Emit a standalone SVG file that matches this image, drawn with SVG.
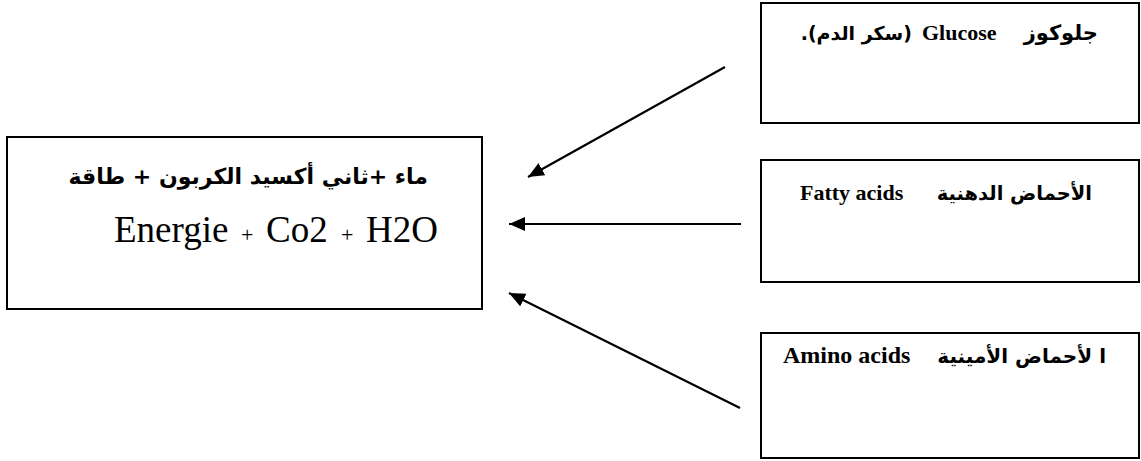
<svg xmlns="http://www.w3.org/2000/svg" width="1141" height="461" viewBox="0 0 1141 461">
<style>
.box{fill:#fff;stroke:#000;stroke-width:2}
.ar{font-family:"DejaVu Sans",sans-serif;font-weight:bold;fill:#000}
.en{font-family:"Liberation Serif",serif;font-weight:bold;fill:#000}
.rm{font-family:"Liberation Serif",serif;fill:#000}
.arrow{stroke:#000;stroke-width:2.2;fill:none;marker-end:url(#ah)}
</style>
<defs>
<marker id="ah" markerUnits="userSpaceOnUse" markerWidth="17" markerHeight="15" refX="16" refY="7" orient="auto">
<path d="M0,0 L16,7 L0,14 z" fill="#000"/>
</marker>
</defs>
<rect width="1141" height="461" fill="#fff"/>
<g id="products">
<rect class="box" x="7" y="137" width="475" height="172"/>
<text class="ar" x="428" y="184" font-size="22" direction="rtl" text-anchor="start">ماء +ثاني أكسيد الكربون +  طاقة</text>
<text class="rm" y="242" font-size="37"><tspan x="114">Energie</tspan><tspan x="241" font-size="22">+</tspan><tspan x="266">Co2</tspan><tspan x="341" font-size="22">+</tspan><tspan x="366">H2O</tspan></text>
</g>
<g id="glucose">
<rect class="box" x="761" y="3" width="378" height="120"/>
<text class="ar" x="1098" y="40" font-size="21" direction="rtl" text-anchor="start">جلوكوز</text>
<text class="en" x="922" y="40" font-size="22">Glucose</text>
<text class="ar" x="912" y="40" font-size="19" direction="rtl" text-anchor="start">(سكر الدم).</text>
</g>
<g id="fatty">
<rect class="box" x="761" y="160" width="378" height="122"/>
<text class="ar" x="1092" y="200" font-size="19.5" direction="rtl" text-anchor="start">الأحماض الدهنية</text>
<text class="en" x="800" y="200" font-size="22">Fatty acids</text>
</g>
<g id="amino">
<rect class="box" x="761" y="333" width="378" height="125"/>
<text class="ar" x="1106" y="363" font-size="20" direction="rtl" text-anchor="start">ا لأحماض الأمينية</text>
<text class="en" x="783" y="363" font-size="24">Amino acids</text>
</g>
<g id="connectors">
<line class="arrow" x1="725" y1="67" x2="528" y2="177"/>
<line class="arrow" x1="741" y1="224" x2="509" y2="224"/>
<line class="arrow" x1="740" y1="408" x2="509" y2="293"/>
</g>
</svg>
